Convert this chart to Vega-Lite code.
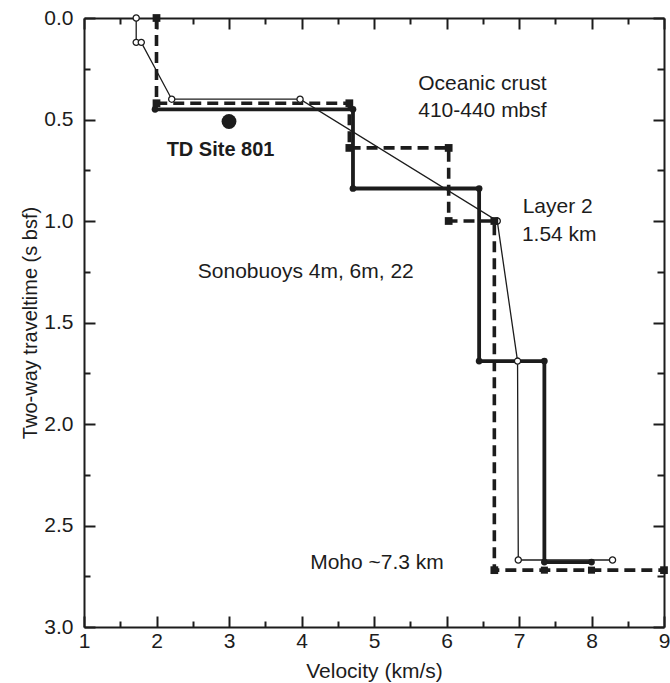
{
  "$schema": "https://vega.github.io/schema/vega-lite/v6.json",
  "width": 580,
  "height": 609,
  "autosize": {"type": "none"},
  "padding": {"left": 84, "top": 18, "right": 6, "bottom": 56},
  "background": "white",
  "config": {
    "view": {"stroke": null},
    "font": "Liberation Sans",
    "text": {"font": "Liberation Sans", "fontSize": 21, "color": "#1c1c1c"}
  },
  "datasets": {
    "profiles": [
      {"s": "A", "i": 1, "v": 1.72, "t": 0.0},
      {"s": "A", "i": 2, "v": 1.72, "t": 0.12},
      {"s": "A", "i": 3, "v": 1.79, "t": 0.12},
      {"s": "A", "i": 4, "v": 2.21, "t": 0.40},
      {"s": "A", "i": 5, "v": 3.98, "t": 0.40},
      {"s": "A", "i": 6, "v": 6.70, "t": 1.00},
      {"s": "A", "i": 7, "v": 6.98, "t": 1.69},
      {"s": "A", "i": 8, "v": 6.99, "t": 2.67},
      {"s": "A", "i": 9, "v": 8.29, "t": 2.67},
      {"s": "B", "i": 1, "v": 1.98, "t": 0.45},
      {"s": "B", "i": 2, "v": 4.71, "t": 0.45},
      {"s": "B", "i": 3, "v": 4.71, "t": 0.84},
      {"s": "B", "i": 4, "v": 6.45, "t": 0.84},
      {"s": "B", "i": 5, "v": 6.45, "t": 1.69},
      {"s": "B", "i": 6, "v": 7.35, "t": 1.69},
      {"s": "B", "i": 7, "v": 7.35, "t": 2.68},
      {"s": "B", "i": 8, "v": 8.00, "t": 2.68},
      {"s": "C", "i": 1, "v": 2.00, "t": 0.0},
      {"s": "C", "i": 2, "v": 2.00, "t": 0.42},
      {"s": "C", "i": 3, "v": 4.66, "t": 0.42},
      {"s": "C", "i": 4, "v": 4.66, "t": 0.64},
      {"s": "C", "i": 5, "v": 6.03, "t": 0.64},
      {"s": "C", "i": 6, "v": 6.03, "t": 1.00},
      {"s": "C", "i": 7, "v": 6.66, "t": 1.00},
      {"s": "C", "i": 8, "v": 6.66, "t": 2.72},
      {"s": "C", "i": 9, "v": 9.00, "t": 2.72}
    ],
    "extraSquares": [
      {"v": 7.35, "t": 2.72},
      {"v": 8.00, "t": 2.72}
    ],
    "site": [
      {"v": 3.0, "t": 0.51}
    ],
    "notes": [
      {"label": "Oceanic crust", "v": 5.61, "t": 0.354},
      {"label": "410-440 mbsf", "v": 5.61, "t": 0.487},
      {"label": "Layer 2", "v": 7.05, "t": 0.96},
      {"label": "1.54 km", "v": 7.04, "t": 1.097},
      {"label": "Sonobuoys 4m, 6m, 22", "v": 2.57, "t": 1.279},
      {"label": "Moho ~7.3 km", "v": 4.12, "t": 2.715}
    ],
    "siteLabel": [
      {"label": "TD Site 801", "v": 2.14, "t": 0.682}
    ]
  },
  "resolve": {"axis": {"x": "independent", "y": "independent"}},
  "layer": [
    {
      "data": {"name": "profiles"},
      "transform": [{"filter": "datum.s === 'A'"}],
      "mark": {"type": "line", "color": "#1c1c1c", "strokeWidth": 1.3},
      "encoding": {
        "x": {
          "field": "v", "type": "quantitative",
          "scale": {"domain": [1, 9], "nice": false, "zero": false},
          "axis": {
            "orient": "bottom",
            "values": [1, 1.5, 2, 2.5, 3, 3.5, 4, 4.5, 5, 5.5, 6, 6.5, 7, 7.5, 8, 8.5, 9],
            "labelExpr": "datum.value % 1 === 0 ? format(datum.value, 'd') : ''",
            "tickSize": {"condition": {"test": "datum.value % 1 === 0", "value": -11}, "value": -6},
            "tickWidth": 2, "tickColor": "#1c1c1c",
            "domainWidth": 2, "domainColor": "#1c1c1c",
            "grid": false,
            "labelFont": "Liberation Sans", "labelFontSize": 21, "labelColor": "#1c1c1c",
            "labelPadding": 14, "labelFlush": false,
            "title": "Velocity (km/s)",
            "titleFont": "Liberation Sans", "titleFontSize": 21, "titleFontWeight": "normal",
            "titleColor": "#1c1c1c", "titlePadding": 9
          }
        },
        "y": {
          "field": "t", "type": "quantitative",
          "scale": {"domain": [0, 3], "reverse": true, "nice": false, "zero": false},
          "axis": {
            "orient": "left",
            "values": [0, 0.25, 0.5, 0.75, 1, 1.25, 1.5, 1.75, 2, 2.25, 2.5, 2.75, 3],
            "labelExpr": "datum.value % 0.5 === 0 ? format(datum.value, '.1f') : ''",
            "tickSize": {"condition": {"test": "datum.value % 0.5 === 0", "value": -11}, "value": -6},
            "tickWidth": 2, "tickColor": "#1c1c1c",
            "domainWidth": 2, "domainColor": "#1c1c1c",
            "grid": false,
            "labelFont": "Liberation Sans", "labelFontSize": 21, "labelColor": "#1c1c1c",
            "labelPadding": 22, "labelFlush": false,
            "title": "Two-way traveltime (s bsf)",
            "titleFont": "Liberation Sans", "titleFontSize": 20, "titleFontWeight": "normal",
            "titleColor": "#1c1c1c", "titlePadding": 3
          }
        },
        "order": {"field": "i", "type": "quantitative"}
      }
    },
    {
      "data": {"name": "profiles"},
      "transform": [{"filter": "datum.s === 'B'"}],
      "mark": {"type": "line", "color": "#1c1c1c", "strokeWidth": 3.8},
      "encoding": {
        "x": {"field": "v", "type": "quantitative", "scale": {"domain": [1, 9], "nice": false, "zero": false}, "axis": null},
        "y": {"field": "t", "type": "quantitative", "scale": {"domain": [0, 3], "reverse": true, "nice": false, "zero": false}, "axis": null},
        "order": {"field": "i", "type": "quantitative"}
      }
    },
    {
      "data": {"name": "profiles"},
      "transform": [{"filter": "datum.s === 'C'"}],
      "mark": {"type": "line", "color": "#1c1c1c", "strokeWidth": 3.6, "strokeDash": [11, 6]},
      "encoding": {
        "x": {"field": "v", "type": "quantitative", "scale": {"domain": [1, 9], "nice": false, "zero": false}, "axis": null},
        "y": {"field": "t", "type": "quantitative", "scale": {"domain": [0, 3], "reverse": true, "nice": false, "zero": false}, "axis": null},
        "order": {"field": "i", "type": "quantitative"}
      }
    },
    {
      "data": {"name": "profiles"},
      "transform": [{"filter": "datum.s === 'A'"}],
      "mark": {"type": "point", "shape": "circle", "filled": true, "fill": "white", "stroke": "#1c1c1c", "strokeWidth": 1.3, "size": 38, "opacity": 1},
      "encoding": {
        "x": {"field": "v", "type": "quantitative", "scale": {"domain": [1, 9], "nice": false, "zero": false}, "axis": null},
        "y": {"field": "t", "type": "quantitative", "scale": {"domain": [0, 3], "reverse": true, "nice": false, "zero": false}, "axis": null}
      }
    },
    {
      "data": {"name": "profiles"},
      "transform": [{"filter": "datum.s === 'B'"}],
      "mark": {"type": "point", "shape": "circle", "filled": true, "color": "#1c1c1c", "size": 45, "opacity": 1},
      "encoding": {
        "x": {"field": "v", "type": "quantitative", "scale": {"domain": [1, 9], "nice": false, "zero": false}, "axis": null},
        "y": {"field": "t", "type": "quantitative", "scale": {"domain": [0, 3], "reverse": true, "nice": false, "zero": false}, "axis": null}
      }
    },
    {
      "data": {"name": "profiles"},
      "transform": [{"filter": "datum.s === 'C'"}],
      "mark": {"type": "point", "shape": "square", "filled": true, "color": "#1c1c1c", "size": 60, "opacity": 1},
      "encoding": {
        "x": {"field": "v", "type": "quantitative", "scale": {"domain": [1, 9], "nice": false, "zero": false}, "axis": null},
        "y": {"field": "t", "type": "quantitative", "scale": {"domain": [0, 3], "reverse": true, "nice": false, "zero": false}, "axis": null}
      }
    },
    {
      "data": {"name": "extraSquares"},
      "mark": {"type": "point", "shape": "square", "filled": true, "color": "#1c1c1c", "size": 50, "opacity": 1},
      "encoding": {
        "x": {"field": "v", "type": "quantitative", "scale": {"domain": [1, 9], "nice": false, "zero": false}, "axis": null},
        "y": {"field": "t", "type": "quantitative", "scale": {"domain": [0, 3], "reverse": true, "nice": false, "zero": false}, "axis": null}
      }
    },
    {
      "data": {"name": "site"},
      "mark": {"type": "point", "shape": "circle", "filled": true, "color": "#1c1c1c", "size": 220, "opacity": 1},
      "encoding": {
        "x": {
          "field": "v", "type": "quantitative",
          "scale": {"domain": [1, 9], "nice": false, "zero": false},
          "axis": {
            "orient": "top",
            "values": [1, 1.5, 2, 2.5, 3, 3.5, 4, 4.5, 5, 5.5, 6, 6.5, 7, 7.5, 8, 8.5, 9],
            "labels": false, "title": null, "grid": false,
            "tickSize": {"condition": {"test": "datum.value % 1 === 0", "value": -11}, "value": -6},
            "tickWidth": 2, "tickColor": "#1c1c1c",
            "domainWidth": 2, "domainColor": "#1c1c1c"
          }
        },
        "y": {
          "field": "t", "type": "quantitative",
          "scale": {"domain": [0, 3], "reverse": true, "nice": false, "zero": false},
          "axis": {
            "orient": "right",
            "values": [0, 0.25, 0.5, 0.75, 1, 1.25, 1.5, 1.75, 2, 2.25, 2.5, 2.75, 3],
            "labels": false, "title": null, "grid": false,
            "tickSize": {"condition": {"test": "datum.value % 0.5 === 0", "value": -11}, "value": -7},
            "tickWidth": 2, "tickColor": "#1c1c1c",
            "domainWidth": 2, "domainColor": "#1c1c1c"
          }
        }
      }
    },
    {
      "data": {"name": "notes"},
      "mark": {"type": "text", "align": "left", "baseline": "alphabetic"},
      "encoding": {
        "x": {"field": "v", "type": "quantitative", "scale": {"domain": [1, 9], "nice": false, "zero": false}, "axis": null},
        "y": {"field": "t", "type": "quantitative", "scale": {"domain": [0, 3], "reverse": true, "nice": false, "zero": false}, "axis": null},
        "text": {"field": "label"}
      }
    },
    {
      "data": {"name": "siteLabel"},
      "mark": {"type": "text", "align": "left", "baseline": "alphabetic", "fontWeight": "bold", "fontSize": 20},
      "encoding": {
        "x": {"field": "v", "type": "quantitative", "scale": {"domain": [1, 9], "nice": false, "zero": false}, "axis": null},
        "y": {"field": "t", "type": "quantitative", "scale": {"domain": [0, 3], "reverse": true, "nice": false, "zero": false}, "axis": null},
        "text": {"field": "label"}
      }
    }
  ]
}
